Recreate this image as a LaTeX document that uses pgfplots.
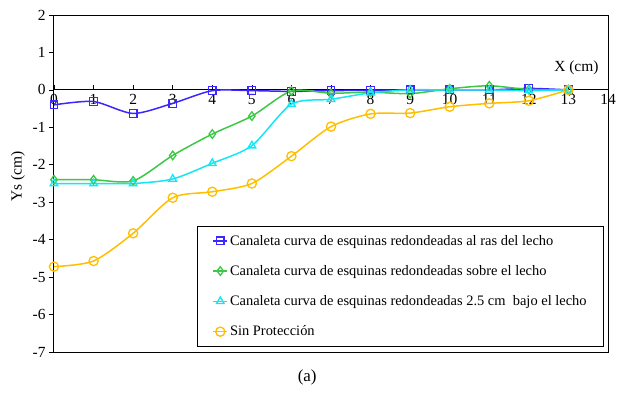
\documentclass[border=0pt]{standalone}
\usepackage{pgfplots}
\pgfplotsset{compat=1.18}
\usepackage{fontspec}
\setmainfont{Liberation Serif}
\definecolor{cblue}{RGB}{60,40,255}
\definecolor{cgreen}{RGB}{60,200,70}
\definecolor{ccyan}{RGB}{20,230,245}
\definecolor{corange}{RGB}{255,190,0}
\begin{document}
\begin{tikzpicture}
\begin{axis}[
  name=ax,
  scale only axis,
  width=554bp, height=337bp,
  xmin=0, xmax=14, ymin=-7, ymax=2,
  axis x line=middle,
  axis y line=left,
  axis line style={-, black, line width=1bp},
  hide obscured x ticks=false,
  xtick={0,1,...,14},
  ytick={-7,-6,...,2},
  x tick style={black, line width=0.7bp},
  y tick style={black, line width=0.7bp},
  xtick align=inside,
  ytick align=outside,
  major tick length=5bp,
  x tick label style={yshift=-1bp, anchor=north},
  tick label style={font=\fontsize{15.5}{17}\selectfont},
  /pgf/number format/assume math mode=true,
  clip=false,
  legend cell align=left,
  legend style={at={(rel axis cs:0.993,0.015)}, anchor=south east,
    draw=black, line width=1bp, font=\fontsize{14.5}{16}\selectfont,
    inner xsep=15bp, inner ysep=7bp,
    /tikz/every even column/.append style={column sep=0bp},
    row sep=14.8bp},
  legend image code/.code={\draw[mark repeat=2,mark phase=2] plot coordinates {(0bp,0bp) (7bp,0bp) (14bp,0bp)};},
  every axis plot/.append style={line width=1.5bp, smooth, tension=0.45},
]
\addplot[cblue, mark=square, mark size=3.8bp, mark options={fill=white, line width=1.3bp}] coordinates {
(0,-0.40) (1,-0.31) (2,-0.63) (3,-0.36) (4,-0.02) (5,-0.02) (6,-0.04) (7,-0.02) (8,-0.01) (9,0) (10,0) (11,0) (12,0.04) (13,0)};
\addlegendentry{Canaleta curva de esquinas redondeadas al ras del lecho}
\addplot[cgreen, mark=diamond, mark size=4.3bp, mark options={fill=white, line width=1.3bp}] coordinates {
(0,-2.40) (1,-2.40) (2,-2.43) (3,-1.75) (4,-1.18) (5,-0.70) (6,-0.03) (7,-0.09) (8,-0.06) (9,-0.10) (10,0.03) (11,0.11) (12,0.01) (13,0)};
\addlegendentry{Canaleta curva de esquinas redondeadas sobre el lecho}
\addplot[ccyan, mark=triangle, mark size=4.4bp, mark options={fill=white, line width=1.3bp}] coordinates {
(0,-2.50) (1,-2.50) (2,-2.50) (3,-2.38) (4,-1.96) (5,-1.49) (6,-0.38) (7,-0.25) (8,-0.08) (9,0) (10,0) (11,0) (12,-0.02) (13,0)};
\addlegendentry{Canaleta curva de esquinas redondeadas 2.5 cm\ \ bajo el lecho}
\addplot[corange, mark=o, mark size=4.6bp, mark options={fill=white, line width=1.3bp}] coordinates {
(0,-4.72) (1,-4.57) (2,-3.83) (3,-2.88) (4,-2.72) (5,-2.50) (6,-1.77) (7,-0.98) (8,-0.64) (9,-0.62) (10,-0.45) (11,-0.36) (12,-0.29) (13,0)};
\addlegendentry{Sin Protección}
\draw[black, line width=1bp] (rel axis cs:0,0) rectangle (rel axis cs:1,1);
\node[font=\fontsize{15.5}{17}\selectfont] at (axis cs:13.2,0.6) {X (cm)};
\node[font=\fontsize{15.5}{17}\selectfont, rotate=90] at ([xshift=-36bp]rel axis cs:0,0.52) {Ys (cm)};
\node[font=\fontsize{17}{19}\selectfont] at ([yshift=-25bp]rel axis cs:0.457,0) {(a)};
\end{axis}
\path (ax.south west) ++(-54bp,-42bp) rectangle ++(626bp,394bp);
\end{tikzpicture}
\end{document}
